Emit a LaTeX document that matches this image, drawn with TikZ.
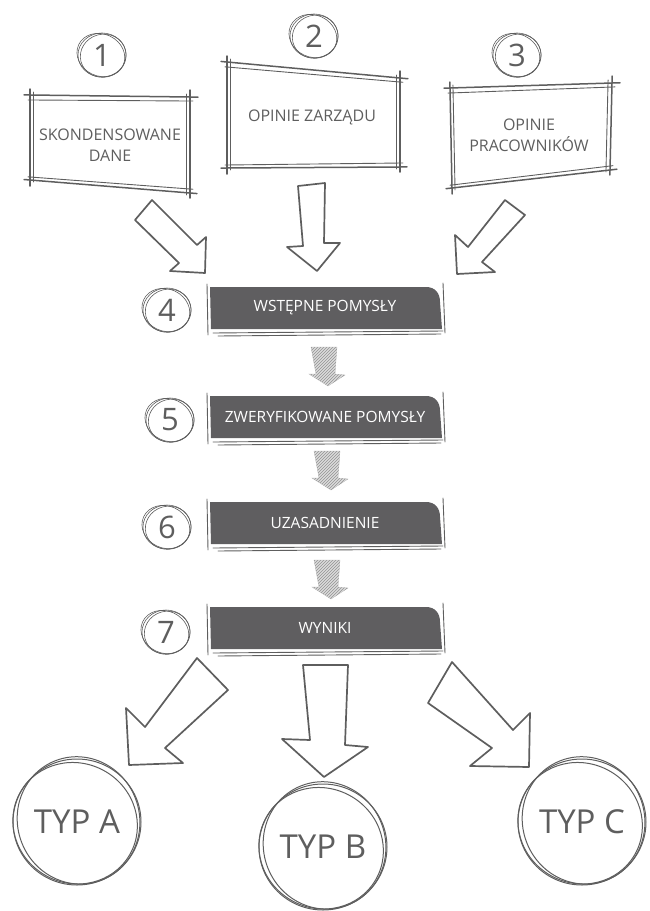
\documentclass[tikz,border=0pt]{standalone}
\usepackage{fontspec}
\setmainfont{Open Sans}
\usetikzlibrary{calc,patterns}
\definecolor{ink}{HTML}{5E5E5E}
\definecolor{barfill}{HTML}{5F5E60}
\tikzset{
  sk/.style={draw=ink, line width=1.5pt, line cap=round},
  skthin/.style={draw=ink, line width=0.9pt, line cap=round},
  ring/.style={draw=ink, line width=0.6pt},
  bigring/.style={draw=ink, line width=1pt},
  boxtxt/.style={text=ink, font=\fontsize{16}{21}\selectfont, align=center},
  numtxt/.style={text=ink, font=\fontsize{31}{31}\selectfont, inner sep=0pt},
  typtxt/.style={text=ink, font=\fontsize{33}{33}\selectfont, inner sep=0pt},
  bartxt/.style={text=white, font=\fontsize{15.5}{18}\selectfont, inner sep=0pt},
  blockarrow/.style={draw=ink, line width=1.7pt, fill=white, line join=round},
  hatcharrow/.style={fill=gray!28, draw=gray!55, line width=0.3pt,
    postaction={pattern=north east lines, pattern color=gray!85}}
}
\newcommand\sketchquad[4]{%
  \draw[sk] ($(#1)!-6pt!(#2)$) -- ($(#2)!-8pt!(#1)$);
  \draw[skthin] ($(#1)!-2pt!(#2)+(0,5)$) -- ($(#2)!-3pt!(#1)+(0,4)$);
  \draw[sk] ($(#2)!-7pt!(#3)$) -- ($(#3)!-5pt!(#2)$);
  \draw[skthin] ($(#2)!-3pt!(#3)+(-4,0)$) -- ($(#3)!-2pt!(#2)+(-4,0)$);
  \draw[sk] ($(#3)!-7pt!(#4)$) -- ($(#4)!-6pt!(#3)$);
  \draw[skthin] ($(#3)!-3pt!(#4)+(0,-4)$) -- ($(#4)!-2pt!(#3)+(0,-3)$);
  \draw[sk] ($(#4)!-6pt!(#1)$) -- ($(#1)!-6pt!(#4)$);
  \draw[skthin] ($(#4)!-2pt!(#1)+(3,0)$) -- ($(#1)!-3pt!(#4)+(3,0)$);
}
\newcommand\numcirc[3]{%
  \node[numtxt] (#1) at #2 {#3};
  \draw[ring] (#1.center) ellipse (24 and 22);
  \draw[ring, rotate around={15:(#1.center)}] ($(#1.center)+(1,1)$) ellipse (23 and 21.5);
  \draw[ring, rotate around={-25:(#1.center)}] ($(#1.center)+(-1,0.5)$) ellipse (24.5 and 21);
}
\newcommand\typcirc[3]{%
  \node[typtxt] (#1) at #2 {#3};
  \draw[bigring] (#1.center) ellipse (64 and 63);
  \draw[bigring, rotate around={20:(#1.center)}] ($(#1.center)+(2,-1)$) ellipse (61 and 64);
  \draw[bigring, rotate around={-30:(#1.center)}] ($(#1.center)+(-1,2)$) ellipse (63 and 60);
}
\newcommand\stepbar[3]{%
  \fill[barfill] (210,#2) -- (426,#2) .. controls (435,#2) and (440,#2+6) .. (440,#2+15)
     -- (442,#2+42) -- (211,#2+42) -- cycle;
  \node[bartxt] (#1) at (325,#2+21) {#3};
  \draw[skthin] (207,#2-3) -- (208,#2+48);
  \draw[skthin] (443,#2-4) -- (445,#2+46);
  \draw[skthin] (213,#2+46) -- (443,#2+44);
  \draw[skthin] (218,#2+49) -- (441,#2+47);
}
\newcommand\hatchdown[2]{%
  \path[hatcharrow] (#1-13,#2) -- (#1+13,#2) -- (#1+11,#2+27) -- (#1+21,#2+28)
     -- (#1+4,#2+39) -- (#1-15,#2+27) -- (#1-8,#2+27) -- cycle;
}
\begin{document}
\begin{tikzpicture}[x=1pt,y=-1pt]
\useasboundingbox (0,0) rectangle (650,911);

% top boxes
\coordinate (b1tl) at (30,95);  \coordinate (b1tr) at (190,97);
\coordinate (b1br) at (190,193); \coordinate (b1bl) at (30,180);
\sketchquad{b1tl}{b1tr}{b1br}{b1bl}
\node[boxtxt] (b1) at (110,145) {SKONDENSOWANE\\DANE};

\coordinate (b2tl) at (227,62);  \coordinate (b2tr) at (400,78);
\coordinate (b2br) at (400,167); \coordinate (b2bl) at (227,168);
\sketchquad{b2tl}{b2tr}{b2br}{b2bl}
\node[boxtxt] (b2) at (312,117) {OPINIE ZARZĄDU};

\coordinate (b3tl) at (450,88);  \coordinate (b3tr) at (612,83);
\coordinate (b3br) at (610,170); \coordinate (b3bl) at (452,188);
\sketchquad{b3tl}{b3tr}{b3br}{b3bl}
\node[boxtxt] (b3) at (529,135) {OPINIE\\PRACOWNIKÓW};

% number circles
\numcirc{n1}{(102,55)}{1}
\numcirc{n2}{(314,36)}{2}
\numcirc{n3}{(517,55)}{3}
\numcirc{n4}{(167,310)}{4}
\numcirc{n5}{(170,420)}{5}
\numcirc{n6}{(167,527)}{6}
\numcirc{n7}{(166,632)}{7}

% upper block arrows
\draw[blockarrow] (152,200) -- (197,245) -- (206,237) -- (205,273) -- (170,271)
   -- (179,263) -- (135,220) -- cycle;
\draw[blockarrow] (298,186) -- (325,183) -- (324,243) -- (340,243) -- (317,271)
   -- (287,247) -- (303,246) -- cycle;
\draw[blockarrow] (505,200) -- (525,215) -- (482,262) -- (495,272) -- (457,274)
   -- (455,235) -- (468,247) -- cycle;

% bars
\stepbar{s4}{287}{WSTĘPNE POMYSŁY}
\stepbar{s5}{396}{ZWERYFIKOWANE POMYSŁY}
\stepbar{s6}{502}{UZASADNIENIE}
\stepbar{s7}{607}{WYNIKI}

% hatched arrows
\hatchdown{324}{347}
\hatchdown{327}{451}
\hatchdown{327}{560}

% lower block arrows
\draw[blockarrow] (197,658) -- (228,690) -- (165,748) -- (183,763) -- (129,765)
   -- (126,708) -- (145,727) -- cycle;
\draw[blockarrow] (303,665) -- (348,665) -- (345,745) -- (368,747) -- (324,777)
   -- (282,739) -- (310,740) -- cycle;
\draw[blockarrow] (452,662) -- (513,730) -- (530,713) -- (529,767) -- (470,766)
   -- (492,748) -- (428,703) -- cycle;

% result circles
\typcirc{ta}{(77,822)}{TYP A}
\typcirc{tb}{(323,847)}{TYP B}
\typcirc{tc}{(582,822)}{TYP C}
\end{tikzpicture}
\end{document}
